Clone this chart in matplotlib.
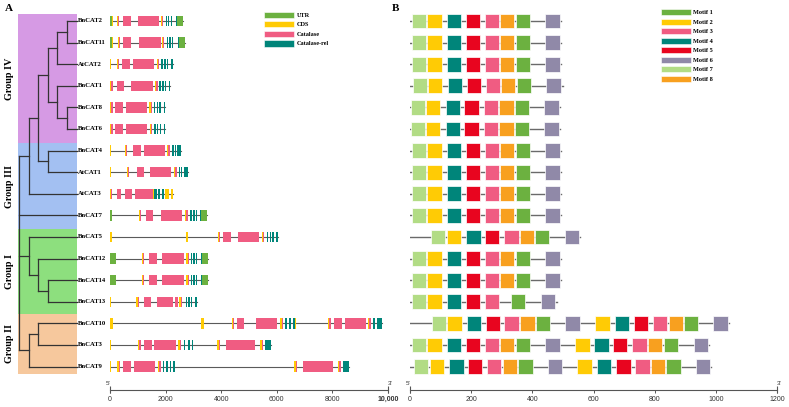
import matplotlib
matplotlib.use("Agg")
import matplotlib.pyplot as plt
from matplotlib.patches import Rectangle, Patch
from matplotlib.font_manager import FontProperties

W, H = 789, 407
DPI = 100

genes = ["BnCAT2", "BnCAT11", "AtCAT2", "BnCAT1", "BnCAT8", "BnCAT6",
         "BnCAT4", "AtCAT1", "AtCAT3", "BnCAT7", "BnCAT5", "BnCAT12",
         "BnCAT14", "BnCAT13", "BnCAT10", "BnCAT3", "BnCAT9"]

# tree: node -> (level, children), leaves sit at level 6
tree_nodes = {
    "n1": (5, ["BnCAT2", "BnCAT11"]),
    "n2": (4, ["n1", "AtCAT2"]),
    "n3": (5, ["BnCAT8", "BnCAT6"]),
    "n4": (4, ["BnCAT1", "n3"]),
    "n5": (3, ["n2", "n4"]),
    "n6": (3, ["BnCAT4", "AtCAT1"]),
    "n7": (2, ["n5", "n6"]),
    "n8": (1, ["n7", "AtCAT3"]),
    "n9": (3, ["BnCAT14", "BnCAT13"]),
    "n10": (2, ["BnCAT12", "n9"]),
    "n11": (1, ["BnCAT5", "n10"]),
    "n12": (2, ["BnCAT10", "BnCAT3"]),
    "n13": (1, ["BnCAT9", "n12"]),
    "root": (0, ["n8", "BnCAT7", "n11", "n13"]),
}
leaf_level = 6

group_names = ["Group IV", "Group III", "Group I", "Group II"]
group_edges = [-0.32, 5.65, 9.63, 13.56, 16.34]
group_colors = ["#d69ae4", "#a3c0f2", "#8ddf7e", "#f6c89d"]

# gene structures: (start bp, end bp, feature)
# U = UTR, C = CDS, K = Catalase, R = Catalase-rel
gene_structs = {
    "BnCAT2": [(0, 85, "U"), (85, 110, "C"), (265, 300, "C"), (300, 335, "K"), (455, 745, "K"),
               (995, 1775, "K"), (1835, 1885, "C"), (1885, 1920, "K"), (2000, 2045, "R"),
               (2095, 2140, "R"), (2190, 2235, "R"), (2375, 2425, "R"), (2425, 2640, "U")],
    "BnCAT11": [(0, 85, "U"), (85, 110, "C"), (300, 330, "C"), (330, 360, "K"), (480, 755, "K"),
                (1045, 1825, "K"), (1860, 1905, "C"), (1905, 1945, "K"), (2040, 2085, "R"),
                (2135, 2180, "R"), (2230, 2275, "R"), (2440, 2490, "R"), (2490, 2700, "U")],
    "AtCAT2": [(0, 25, "C"), (265, 300, "C"), (300, 335, "K"), (430, 720, "K"), (815, 1585, "K"),
               (1680, 1720, "C"), (1720, 1765, "K"), (1850, 1895, "R"), (1955, 2000, "R"),
               (2045, 2090, "R"), (2210, 2255, "R")],
    "BnCAT1": [(0, 35, "C"), (35, 120, "K"), (240, 505, "K"), (755, 1535, "K"), (1620, 1665, "C"),
               (1665, 1710, "K"), (1775, 1830, "R"), (1880, 1930, "R"), (1980, 2025, "R"),
               (2120, 2170, "R")],
    "BnCAT8": [(0, 35, "C"), (35, 95, "K"), (190, 470, "K"), (565, 1330, "K"), (1415, 1460, "C"),
               (1460, 1510, "K"), (1585, 1630, "R"), (1680, 1725, "R"), (1775, 1825, "R"),
               (1945, 1990, "R")],
    "BnCAT6": [(0, 35, "C"), (35, 110, "K"), (190, 475, "K"), (565, 1340, "K"), (1440, 1480, "C"),
               (1480, 1515, "K"), (1595, 1640, "R"), (1690, 1735, "R"), (1785, 1830, "R"),
               (1935, 1990, "R")],
    "BnCAT4": [(0, 25, "C"), (540, 580, "C"), (580, 625, "K"), (840, 1105, "K"), (1215, 1980, "K"),
               (2050, 2100, "C"), (2100, 2160, "K"), (2230, 2290, "R"), (2325, 2375, "R"),
               (2400, 2545, "R")],
    "AtCAT1": [(0, 30, "C"), (600, 640, "C"), (640, 685, "K"), (960, 1235, "K"), (1430, 2210, "K"),
               (2305, 2350, "C"), (2350, 2400, "K"), (2470, 2530, "R"), (2555, 2600, "R"),
               (2650, 2795, "R")],
    "AtCAT3": [(0, 25, "C"), (25, 85, "K"), (265, 385, "K"), (540, 805, "K"), (910, 1550, "K"),
               (1550, 1590, "C"), (1590, 1690, "R"), (1740, 1810, "R"), (1870, 1930, "R"),
               (1990, 2135, "C"), (2210, 2255, "C")],
    "BnCAT7": [(0, 60, "U"), (1045, 1085, "C"), (1085, 1130, "K"), (1295, 1560, "K"),
               (1825, 2600, "K"), (2690, 2740, "C"), (2740, 2795, "K"), (2880, 2940, "R"),
               (3000, 3045, "R"), (3085, 3140, "R"), (3240, 3285, "R"), (3285, 3500, "U")],
    "BnCAT5": [(0, 85, "C"), (2735, 2820, "C"), (3890, 3925, "C"), (3925, 3960, "K"),
               (4080, 4345, "K"), (4610, 5375, "K"), (5470, 5505, "C"), (5505, 5545, "K"),
               (5635, 5685, "R"), (5745, 5790, "R"), (5840, 5890, "R"), (5985, 6035, "R")],
    "BnCAT12": [(0, 205, "U"), (1150, 1190, "C"), (1190, 1235, "K"), (1415, 1680, "K"),
                (1885, 2655, "K"), (2745, 2790, "C"), (2790, 2840, "K"), (2900, 2950, "R"),
                (3000, 3045, "R"), (3095, 3140, "R"), (3260, 3310, "R"), (3310, 3525, "U")],
    "BnCAT14": [(0, 205, "U"), (1150, 1190, "C"), (1190, 1235, "K"), (1415, 1680, "K"),
                (1885, 2655, "K"), (2745, 2790, "C"), (2790, 2840, "K"), (2900, 2950, "R"),
                (3000, 3045, "R"), (3095, 3140, "R"), (3260, 3310, "R"), (3310, 3525, "U")],
    "BnCAT13": [(0, 25, "C"), (950, 1000, "C"), (1000, 1055, "K"), (1215, 1490, "K"),
                (1705, 2270, "K"), (2325, 2445, "K"), (2495, 2540, "C"), (2540, 2590, "K"),
                (2735, 2780, "R"), (2820, 2880, "R"), (2915, 2960, "R"), (3070, 3120, "R")],
    "BnCAT10": [(0, 95, "C"), (3275, 3385, "C"), (4380, 4420, "C"), (4420, 4465, "K"),
                (4560, 4835, "K"), (5255, 6025, "K"), (6120, 6170, "C"), (6170, 6230, "K"),
                (6295, 6355, "R"), (6450, 6510, "R"), (6595, 6655, "R"), (6670, 6690, "C"),
                (7835, 7890, "C"), (7890, 7955, "K"), (8065, 8340, "K"), (8450, 9215, "K"),
                (9275, 9330, "C"), (9330, 9395, "K"), (9455, 9540, "R"), (9600, 9770, "R"),
                (9770, 9790, "C")],
    "BnCAT3": [(0, 25, "C"), (1020, 1060, "C"), (1060, 1105, "K"), (1225, 1500, "K"),
               (1585, 2375, "K"), (2460, 2510, "C"), (2510, 2560, "K"), (2650, 2710, "R"),
               (2820, 2880, "R"), (2950, 3000, "R"), (3050, 3075, "R"), (3865, 3905, "C"),
               (3905, 3950, "K"), (4175, 5230, "K"), (5410, 5460, "C"), (5460, 5510, "K"),
               (5570, 5785, "R")],
    "BnCAT9": [(0, 30, "C"), (265, 310, "C"), (310, 360, "K"), (480, 745, "K"), (865, 1620, "K"),
               (1715, 1770, "C"), (1770, 1825, "K"), (1895, 1955, "R"), (2015, 2075, "R"),
               (2160, 2205, "R"), (2280, 2340, "R"), (6635, 6675, "C"), (6675, 6720, "K"),
               (6960, 8015, "K"), (8200, 8250, "C"), (8250, 8305, "K"), (8375, 8580, "R")],
}
feature_labels = ["UTR", "CDS", "Catalase", "Catalase-rel"]
feature_keys = ["U", "C", "K", "R"]
feature_colors = {"U": "#6cb140", "C": "#ffcb05", "K": "#f05c82", "R": "#00857a"}

# motifs: ids in order along protein, start positions (aa), protein length
motif_width = 47
single_order = [7, 2, 4, 5, 3, 8, 1, 6]
double_order = single_order + [2, 4, 5, 3, 8, 1, 6]
std_starts = [6, 56, 120, 182, 244, 294, 347, 443]
motif_ids = {g: single_order for g in genes}
motif_ids["BnCAT13"] = [7, 2, 4, 5, 3, 1, 6]
motif_ids["BnCAT10"] = double_order
motif_ids["BnCAT3"] = double_order
motif_ids["BnCAT9"] = double_order
motif_starts = {
    "BnCAT2": std_starts, "BnCAT11": std_starts, "AtCAT2": std_starts,
    "BnCAT1": [9, 59, 123, 185, 247, 297, 350, 446],
    "BnCAT8": [2, 52, 117, 178, 241, 292, 343, 439],
    "BnCAT6": [2, 52, 117, 178, 241, 292, 343, 439],
    "BnCAT4": std_starts, "AtCAT1": std_starts, "AtCAT3": std_starts, "BnCAT7": std_starts,
    "BnCAT5": [68, 120, 184, 245, 308, 360, 409, 507],
    "BnCAT12": std_starts, "BnCAT14": std_starts,
    "BnCAT13": [6, 56, 120, 182, 244, 329, 427],
    "BnCAT10": [71, 122, 185, 248, 308, 361, 412, 508, 606, 670, 731, 794, 846, 896, 992],
    "BnCAT3": [5, 56, 120, 182, 244, 294, 347, 443, 540, 603, 664, 727, 777, 830, 927],
    "BnCAT9": [13, 65, 129, 190, 252, 303, 354, 450, 547, 611, 674, 737, 788, 838, 934],
}
protein_len = {g: 495 for g in genes}
protein_len.update({"BnCAT1": 500, "BnCAT8": 490, "BnCAT6": 490, "BnCAT5": 556,
                    "BnCAT13": 481, "BnCAT10": 1044, "BnCAT3": 978, "BnCAT9": 985})
motif_labels = ["Motif %d" % i for i in range(1, 9)]
motif_colors = {1: "#6cb140", 2: "#ffcb05", 3: "#f05c82", 4: "#00857a",
                5: "#e8051f", 6: "#9089a8", 7: "#b2dc85", 8: "#f8a01f"}

gene_ticks = [0, 2000, 4000, 6000, 8000, 10000]
gene_tick_labels = ["0", "2000", "4000", "6000", "8000", "10,000"]
motif_ticks = [0, 200, 400, 600, 800, 1000, 1200]

serif = ["Liberation Serif", "DejaVu Serif"]
sans = ["Liberation Sans", "DejaVu Sans"]

fig = plt.figure(figsize=(W / DPI, H / DPI), dpi=DPI)

# rows: row 0 at pixel 21, 21.6 px per row
ROW0, ROWH = 21.0, 21.6
ylim = ((H - ROW0) / ROWH, -ROW0 / ROWH)
axis_row = (390 - ROW0) / ROWH


def px_axes(x0, x1):
    return fig.add_axes([x0 / W, 0, (x1 - x0) / W, 1])


# ---- tree ----
ax_t = px_axes(0, 110)
ax_t.set_xlim(-19 / 9.6, 91 / 9.6)
ax_t.set_ylim(*ylim)
ax_t.axis("off")

for name, c, y0, y1 in zip(group_names, group_colors, group_edges[:-1], group_edges[1:]):
    ax_t.add_patch(Rectangle((-0.1, y0), leaf_level + 0.05 + 0.1, y1 - y0, color=c, lw=0, zorder=0))
    ax_t.text(-0.95, (y0 + y1) / 2, name, rotation=90, ha="center", va="center",
              family=serif, weight="bold", fontsize=7.3)

ypos = {g: i for i, g in enumerate(genes)}


def node_y(n):
    if n in ypos:
        return ypos[n]
    ys = [node_y(c) for c in tree_nodes[n][1]]
    return (min(ys) + max(ys)) / 2


def draw_node(n, parent_level):
    lw, col = 0.9, "#333333"
    if n in ypos:
        ax_t.plot([parent_level, leaf_level], [ypos[n], ypos[n]], color=col, lw=lw)
        return
    level, kids = tree_nodes[n]
    y = node_y(n)
    if parent_level is not None:
        ax_t.plot([parent_level, level], [y, y], color=col, lw=lw)
    ys = [node_y(k) for k in kids]
    ax_t.plot([level, level], [min(ys), max(ys)], color=col, lw=lw)
    for k in kids:
        draw_node(k, level)


draw_node("root", None)

for g, i in ypos.items():
    ax_t.text(leaf_level + 0.15, i, g, ha="left", va="center", family=serif,
              weight="bold", fontsize=4.8)

# ---- gene structures ----
ax_a = px_axes(110, 388)
ax_a.set_xlim(0, 10000)
ax_a.set_ylim(*ylim)
h = 0.49
for i, g in enumerate(genes):
    segs = gene_structs[g]
    end = max(s[1] for s in segs)
    ax_a.plot([0, end], [i, i], color="#5a5a5a", lw=0.8, zorder=1)
    for s, e, k in segs:
        ax_a.add_patch(Rectangle((s, i - h / 2), e - s, h, fc=feature_colors[k], lw=0, zorder=2))

# ---- motifs ----
ax_b = px_axes(410, 777)
ax_b.set_xlim(0, 1200)
ax_b.set_ylim(*ylim)
mh = 0.69
for i, g in enumerate(genes):
    ax_b.plot([0, protein_len[g]], [i, i], color="#6a6a6a", lw=1.0, zorder=1)
    for m, st in zip(motif_ids[g], motif_starts[g]):
        ax_b.add_patch(Rectangle((st, i - mh / 2), motif_width, mh, fc=motif_colors[m],
                                 ec="white", lw=0.5, zorder=2))

# scale axes
for ax, ticks, labels in [(ax_a, gene_ticks, gene_tick_labels),
                          (ax_b, motif_ticks, [str(t) for t in motif_ticks])]:
    for s in ["top", "left", "right"]:
        ax.spines[s].set_visible(False)
    ax.spines["bottom"].set_position(("data", axis_row))
    ax.spines["bottom"].set_color("#555555")
    ax.spines["bottom"].set_linewidth(0.8)
    ax.set_yticks([])
    ax.set_xticks(ticks)
    ax.set_xticklabels(labels, family=sans, fontsize=5, color="#333333")
    ax.tick_params(axis="x", direction="out", length=2.5, width=0.7, color="#555555", pad=1.5)
    lo, hi = ax.get_xlim()
    ax.vlines([lo, hi], axis_row - 0.17, axis_row + 0.12, color="#555555", lw=0.8, clip_on=False)
    ax.text(lo, axis_row - 0.2, "5'", ha="right", va="bottom", family=sans, fontsize=4.5, color="#333333")
    ax.text(hi, axis_row - 0.2, "3'", ha="left", va="bottom", family=sans, fontsize=4.5, color="#333333")
ax_a.get_xticklabels()[-1].set_fontweight("bold")

# legends
lp = FontProperties(family=serif, weight="bold", size=4.5)
fs_px = 4.5 * DPI / 72
fig.legend([Patch(fc=feature_colors[k], ec="white", lw=0.4) for k in feature_keys], feature_labels,
           loc="upper left", bbox_to_anchor=(264 / W, 1 - 11.5 / H), frameon=False, prop=lp,
           handlelength=30 / fs_px, handleheight=7.5 / fs_px, handletextpad=0.5,
           labelspacing=0.5, borderpad=0, borderaxespad=0)
fig.legend([Patch(fc=motif_colors[m], ec="white", lw=0.4) for m in range(1, 9)], motif_labels,
           loc="upper left", bbox_to_anchor=(661 / W, 1 - 9 / H), frameon=False, prop=lp,
           handlelength=30 / fs_px, handleheight=7.3 / fs_px, handletextpad=0.3,
           labelspacing=0.52, borderpad=0, borderaxespad=0)

fig.text(5 / W, 1 - 4 / H, "A", ha="left", va="top", family=serif, weight="bold", fontsize=8)
fig.text(392 / W, 1 - 4 / H, "B", ha="left", va="top", family=serif, weight="bold", fontsize=8)

fig.savefig("out.png", dpi=DPI)
